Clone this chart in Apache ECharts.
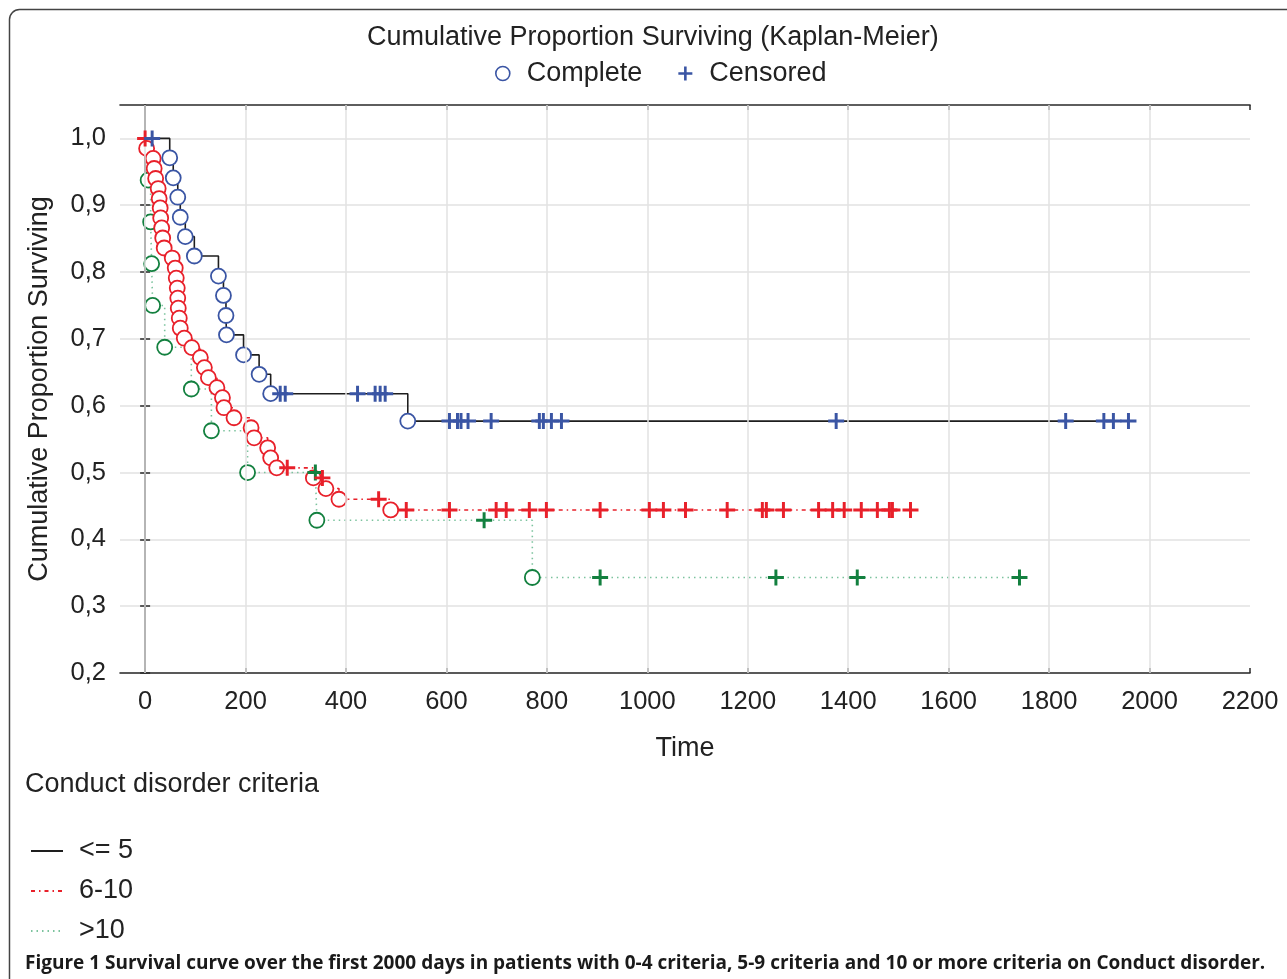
<!DOCTYPE html>
<html><head><meta charset="utf-8">
<script src="https://cdn.jsdelivr.net/npm/echarts@6/dist/echarts.min.js"></script>
<style>html,body{margin:0;padding:0;background:#fff}#c{width:1287px;height:979px}</style>
</head><body><div id="c"></div>
<script>
// ---- data ----
const xTicks = [0,200,400,600,800,1000,1200,1400,1600,1800,2000,2200];
const yTicks = [0.2,0.3,0.4,0.5,0.6,0.7,0.8,0.9,1.0];

// group "<= 5": time, survival, censored flag (1 = censored, 0 = complete, -1 = start)
const g1Time = [0,14,49,56,65,70,80,98,146,156,161,162,196,227,250,269,279,423,458,468,478,523,606,622,629,643,689,785,793,809,829,1376,1833,1909,1928,1958];
const g1Surv = [1,1,0.971,0.941,0.912,0.882,0.853,0.824,0.794,0.765,0.735,0.706,0.676,0.647,0.618,0.618,0.618,0.618,0.618,0.618,0.618,0.577,0.577,0.577,0.577,0.577,0.577,0.577,0.577,0.577,0.577,0.577,0.577,0.577,0.577,0.577];
const g1Cens = [-1,1,0,0,0,0,0,0,0,0,0,0,0,0,0,1,1,1,1,1,1,0,1,1,1,1,1,1,1,1,1,1,1,1,1,1];

// group "6-10"
const g2Time = [0,3,16,18,21,26,28,30,31,33,35,38,54,60,62,64,65,66,68,70,78,93,110,118,126,143,154,157,177,211,217,244,250,262,283,335,353,360,386,465,489,520,606,699,719,765,799,906,1004,1032,1076,1159,1229,1237,1271,1341,1369,1392,1426,1458,1482,1488,1524];
const g2Surv = [1,0.985,0.970,0.955,0.940,0.925,0.910,0.896,0.881,0.866,0.851,0.836,0.821,0.806,0.791,0.776,0.761,0.746,0.731,0.716,0.701,0.687,0.672,0.657,0.642,0.627,0.612,0.597,0.582,0.567,0.552,0.537,0.522,0.507,0.507,0.492,0.492,0.476,0.460,0.460,0.444,0.444,0.444,0.444,0.444,0.444,0.444,0.444,0.444,0.444,0.444,0.444,0.444,0.444,0.444,0.444,0.444,0.444,0.444,0.444,0.444,0.444,0.444];
const g2Cens = [1,0,0,0,0,0,0,0,0,0,0,0,0,0,0,0,0,0,0,0,0,0,0,0,0,0,0,0,0,0,0,0,0,0,1,0,1,0,0,1,0,1,1,1,1,1,1,1,1,1,1,1,1,1,1,1,1,1,1,1,1,1,1];

// group ">10"
const g3Time = [0,6,11,13,15,39,92,132,204,339,342,675,771,906,1256,1418,1741];
const g3Surv = [1,0.9375,0.875,0.8125,0.75,0.6875,0.625,0.5625,0.5,0.5,0.4286,0.4286,0.3429,0.3429,0.3429,0.3429,0.3429];
const g3Cens = [-1,0,0,0,0,0,0,0,0,1,0,1,0,1,1,1,1];

const groupNames = ['<= 5','6-10','>10'];
// ---- styling ----
const lineColors = ['#1e1e1e','#e8202a','#7cc39e'];
const markColors = ['#3a55a4','#e8202a','#13803f'];
const lineTypes = ['solid',[4,4,1.5,4],[1.5,4]];
const plusPath = 'path://M5.7,0H8.3V5.7H14V8.3H8.3V14H5.7V8.3H0V5.7H5.7Z';
const FONT = "'Liberation Sans', Arial, Helvetica, sans-serif";
const TXT = 27;   // text size for titles / names
const NUM = 25.5; // tick label size

const groups = [[g1Time,g1Surv,g1Cens],[g2Time,g2Surv,g2Cens],[g3Time,g3Surv,g3Cens]];
const series = [];

// vertical grid lines through the library's x scale
series.push({
  type:'line', name:'grid', data:[[0,1]], symbol:'none', z:1, silent:true,
  lineStyle:{opacity:0}, animation:false,
  markLine:{silent:true, symbol:['none','none'], label:{show:false}, animation:false,
    lineStyle:{color:'#e2e2e2', width:1.5, type:'solid'},
    data: xTicks.slice(0,-1).map(v=>({xAxis:v}))}
});

const order = [2,1,0];
order.forEach(gi=>{
  const [T,S,C] = groups[gi];
  series.push({
    type:'line', name:groupNames[gi], step:'end', symbol:'none', z:2,
    data:T.map((t,i)=>[t,S[i]]),
    lineStyle:{color:lineColors[gi], width:1.6, type:lineTypes[gi]},
    itemStyle:{color:lineColors[gi]},
    animation:false
  });
});
order.forEach(gi=>{
  const [T,S,C] = groups[gi];
  const comp = [], cens = [];
  T.forEach((t,i)=>{ if(C[i]===0) comp.push([t,S[i]]); else if(C[i]===1) cens.push([t,S[i]]); });
  series.push({
    type:'scatter', name: gi===0?'Complete':'complete'+gi, data:comp, z:4,
    symbol:'circle', symbolSize:15,
    itemStyle:{color:'#fff', borderColor:markColors[gi], borderWidth:1.8, opacity:1},
    animation:false
  });
  series.push({
    type:'scatter', name: gi===0?'Censored':'censored'+gi, data:cens, z:5,
    symbol:plusPath, symbolSize:16,
    itemStyle:{color:markColors[gi], opacity:1},
    animation:false
  });
});

const fmtY = v => Math.abs(v*10-Math.round(v*10))<1e-6 ? v.toFixed(1).replace('.',',') : '';

const chart = echarts.init(document.getElementById('c'), null, {renderer:'canvas'});
chart.setOption({
  backgroundColor:'#fff',
  textStyle:{fontFamily:FONT},
  title:[
    {text:'Cumulative Proportion Surviving (Kaplan-Meier)', left:367, top:24, padding:0,
     textStyle:{fontFamily:FONT, fontSize:TXT, fontWeight:'normal', color:'#222'}},
    {text:'Conduct disorder criteria', left:25, top:771, padding:0,
     textStyle:{fontFamily:FONT, fontSize:TXT, fontWeight:'normal', color:'#222'}},
    {text:'Figure 1 Survival curve over the first 2000 days in patients with 0-4 criteria, 5-9 criteria and 10 or more criteria on Conduct disorder.',
     left:25, top:954, padding:0, textStyle:{fontFamily:"'Open Sans', sans-serif", fontSize:19, fontWeight:'bold', color:'#1a1a1a'}}
  ],
  legend:[
    {data:[
      {name:'Complete', icon:'circle', itemStyle:{color:'#fff', borderColor:'#3a55a4', borderWidth:1.6}},
      {name:'Censored', icon:plusPath, itemStyle:{color:'#3a55a4'}}
     ],
     left:495, top:60, padding:0, itemWidth:14, itemHeight:14, itemGap:36, selectedMode:false,
     textStyle:{fontFamily:FONT, fontSize:TXT, color:'#222', padding:[0,0,0,12]}},
    {data:groupNames, orient:'vertical', left:30, top:836, padding:0, itemWidth:32, itemHeight:10, itemGap:10,
     selectedMode:false, itemStyle:{opacity:0},
     textStyle:{fontFamily:FONT, fontSize:TXT, color:'#222', lineHeight:30, padding:[0,0,0,11]}}
  ],
  grid:{left:120, right:37, top:105, bottom:306, containLabel:false},
  xAxis:[
    {type:'value', min:-50, max:2200, name:'Time', nameLocation:'middle', nameGap:62,
     nameTextStyle:{fontFamily:FONT, fontSize:TXT, color:'#222'},
     axisLine:{show:true, lineStyle:{color:'#2a2a2a', width:1.6}},
     axisTick:{show:true, inside:true, length:5, customValues:xTicks, lineStyle:{color:'#2a2a2a', width:1.5}},
     axisLabel:{customValues:xTicks, fontFamily:FONT, fontSize:NUM, color:'#222', margin:16, formatter:v=>String(v)},
     splitLine:{show:false}},
    {type:'value', position:'top', min:-50, max:2200,
     axisLine:{show:true, lineStyle:{color:'#2a2a2a', width:1.6}},
     axisTick:{show:true, inside:true, length:5, customValues:xTicks, lineStyle:{color:'#2a2a2a', width:1.5}},
     axisLabel:{show:false}, splitLine:{show:false}}
  ],
  yAxis:[
    {type:'value', min:0.2, max:1.05, interval:0.1, name:'Cumulative Proportion Surviving', nameLocation:'middle', nameGap:67,
     nameTextStyle:{fontFamily:FONT, fontSize:TXT, color:'#222'},
     axisLine:{show:true, lineStyle:{color:'#2a2a2a', width:1.6}},
     axisTick:{show:true, inside:true, length:5, customValues:yTicks, lineStyle:{color:'#2a2a2a', width:1.5}},
     axisLabel:{customValues:yTicks, fontFamily:FONT, fontSize:NUM, color:'#222', margin:14, formatter:fmtY},
     splitLine:{show:true, lineStyle:{color:'#e2e2e2', width:1.5}}},
    {type:'value', position:'right', min:0.2, max:1.05, interval:0.1,
     axisLine:{show:true, lineStyle:{color:'#2a2a2a', width:1.6}},
     axisTick:{show:true, inside:true, length:5, customValues:yTicks, lineStyle:{color:'#2a2a2a', width:1.5}},
     axisLabel:{show:false}, splitLine:{show:false}}
  ],
  graphic:[
    {type:'rect', silent:true, z:-1, shape:{x:9.5, y:9.5, width:1400, height:1100, r:10},
     style:{fill:'none', stroke:'#444', lineWidth:1.5}}
  ],
  series: series
});
</script></body></html>
